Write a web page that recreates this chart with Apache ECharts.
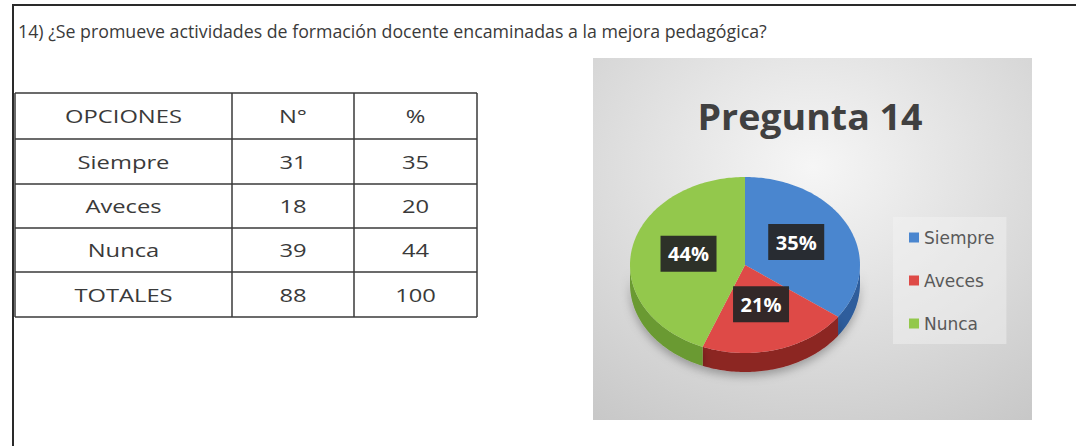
<!DOCTYPE html>
<html><head><meta charset="utf-8">
<script src="https://cdn.jsdelivr.net/npm/echarts@6/dist/echarts.min.js"></script>
<style>html,body{margin:0;padding:0;background:#fff}#c{width:1076px;height:446px}</style>
</head><body><div id="c"></div><script>
// ---- data ----
const questionText = '14) ¿Se promueve actividades de formación docente encaminadas a la mejora pedagógica?';
const tableHeader = ['OPCIONES', 'N°', '%'];
const categories = ['Siempre', 'Aveces', 'Nunca'];
const counts = [31, 18, 39];
const percents = [35, 20, 44];
const totalsRow = ['TOTALES', '88', '100'];
const chartTitle = 'Pregunta 14';
const pieValues = [35, 21, 44];
const pieColors = ['#4a86cf', '#de4a47', '#93c84c'];
const sideColors = ['#2f5d9c', '#8c2624', '#6b9a32'];

// ---- layout helpers ----
const FONT = '"Open Sans", sans-serif';
const mctx = document.createElement('canvas').getContext('2d');
function measure(text, font) { mctx.font = font; return mctx.measureText(text).width; }

const graphics = [];
// chart panel
graphics.push({type: 'rect', z: 0, shape: {x: 593, y: 58, width: 439, height: 362},
  style: {fill: {type: 'radial', x: 0.5, y: 0.3, r: 0.85,
    colorStops: [{offset: 0, color: '#f6f6f6'}, {offset: 1, color: '#c8c8c8'}]}}});
// page border
graphics.push({type: 'line', z: 1, shape: {x1: 12, y1: 5, x2: 1076, y2: 5}, style: {stroke: '#2a2a2a', lineWidth: 2}});
graphics.push({type: 'line', z: 1, shape: {x1: 13, y1: 4, x2: 13, y2: 446}, style: {stroke: '#2a2a2a', lineWidth: 2}});
// question text
const qFont = '19px ' + FONT;
graphics.push({type: 'text', z: 1, x: 18, y: 30, originX: 0, scaleX: 749 / measure(questionText, qFont),
  style: {text: questionText, font: qFont, fill: '#3a3a3a', align: 'left', verticalAlign: 'middle'}});
// table
const colX = [15, 232, 354, 477];
const rowY = [93, 139, 184, 228, 272, 317];
rowY.forEach(y => graphics.push({type: 'line', z: 1, shape: {x1: colX[0], y1: y, x2: colX[3], y2: y}, style: {stroke: '#3a3a3a', lineWidth: 1.5}}));
colX.forEach(x => graphics.push({type: 'line', z: 1, shape: {x1: x, y1: rowY[0], x2: x, y2: rowY[rowY.length - 1]}, style: {stroke: '#3a3a3a', lineWidth: 1.5}}));
const tableRows = [tableHeader].concat(categories.map((c, i) => [c, String(counts[i]), String(percents[i])]), [totalsRow]);
const tFont = '18px ' + FONT;
const tScale = 117 / measure(tableHeader[0], tFont);
tableRows.forEach((row, r) => row.forEach((cell, c) => {
  const cx = (colX[c] + colX[c + 1]) / 2, cy = (rowY[r] + rowY[r + 1]) / 2;
  graphics.push({type: 'text', z: 1, x: cx, y: cy, originX: 0, scaleX: tScale,
    style: {text: cell, font: tFont, fill: '#3a3a3a', align: 'center', verticalAlign: 'middle'}});
}));
// chart title
const ctFont = 'bold 36px ' + FONT;
graphics.push({type: 'text', z: 1, x: 810, y: 116, originX: 0, scaleX: 225 / measure(chartTitle, ctFont),
  style: {text: chartTitle, font: ctFont, fill: '#404040', align: 'center', verticalAlign: 'middle'}});

// ---- 3D-looking pie through custom series ----
const total = pieValues.reduce((a, b) => a + b, 0);
const starts = []; let acc = 0; pieValues.forEach(v => { starts.push(acc); acc += v; });
const PIE = {cx: 745, cy: 265, rx: 115, ry: 88, depth: 19};
function pt(t, dy, f) { return [PIE.cx + PIE.rx * f * Math.sin(t), PIE.cy - PIE.ry * f * Math.cos(t) + dy]; }
function arc(a0, a1, dy) {
  const n = Math.max(2, Math.ceil((a1 - a0) / 0.02)); const out = [];
  for (let k = 0; k <= n; k++) out.push(pt(a0 + (a1 - a0) * k / n, dy, 1));
  return out;
}
const TAU = Math.PI * 2;
const series = categories.map((name, i) => ({
  type: 'custom', name, coordinateSystem: 'none', itemStyle: {color: pieColors[i]},
  data: [pieValues[i]],
  renderItem: (params, api) => {
    const v = api.value(0);
    const a0 = starts[i] / total * TAU, a1 = a0 + v / total * TAU;
    const children = [];
    const s = Math.max(a0, Math.PI / 2), e = Math.min(a1, Math.PI * 1.5);
    if (e > s) {
      children.push({type: 'polygon', z2: 1,
        shape: {points: arc(s, e, 0).concat(arc(s, e, PIE.depth).reverse())},
        style: {fill: sideColors[i], shadowBlur: 10, shadowColor: 'rgba(0,0,0,0.3)', shadowOffsetY: 4}});
    }
    children.push({type: 'polygon', z2: 2, shape: {points: [[PIE.cx, PIE.cy]].concat(arc(a0, a1, 0))},
      style: {fill: pieColors[i]}});
    const m = (a0 + a1) / 2; const p = pt(m, -3, 0.5);
    children.push({type: 'rect', z2: 10, shape: {x: p[0] - 28, y: p[1] - 18, width: 56, height: 36},
      style: {fill: 'rgba(38,38,38,0.93)'}});
    children.push({type: 'text', z2: 11, x: p[0], y: p[1],
      style: {text: Math.round(v / total * 100) + '%', font: 'bold 20px ' + FONT, fill: '#ffffff', align: 'center', verticalAlign: 'middle'}});
    return {type: 'group', children};
  }
}));

const chart = echarts.init(document.getElementById('c'), null, {renderer: 'svg'});
chart.setOption({
  animation: false,
  backgroundColor: '#ffffff',
  graphic: {elements: graphics},
  legend: {orient: 'vertical', left: 893, top: 217, padding: [12, 12, 12, 16], itemWidth: 10, itemHeight: 10, itemGap: 26,
    icon: 'rect', backgroundColor: 'rgba(245,245,245,0.45)', data: categories,
    textStyle: {fontFamily: 'DejaVu Sans', fontSize: 17, color: '#595959'}},
  series
});
</script></body></html>
